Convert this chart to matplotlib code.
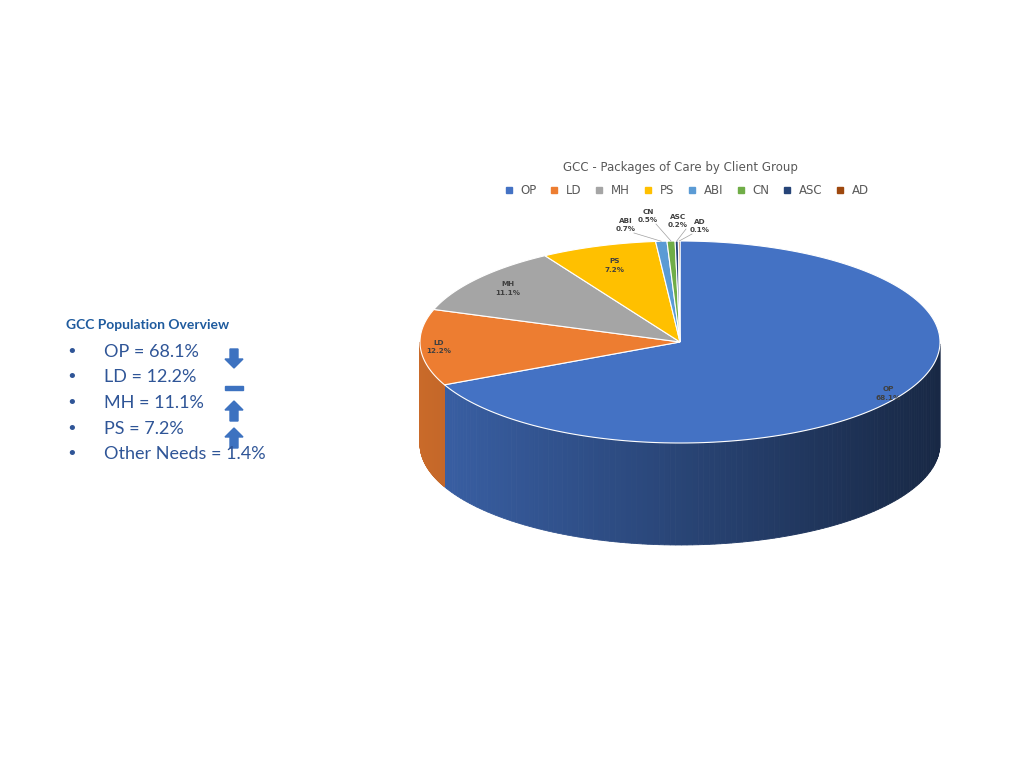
import numpy as np
import matplotlib
matplotlib.use("Agg")
import matplotlib.pyplot as plt
from matplotlib.patches import Polygon, FancyArrow, Rectangle
from matplotlib.lines import Line2D
import matplotlib.colors as mc

categories = ["OP", "LD", "MH", "PS", "ABI", "CN", "ASC", "AD"]
values = [68.1, 12.2, 11.1, 7.2, 0.7, 0.5, 0.2, 0.1]
colors = ["#4472c4", "#ed7d31", "#a5a5a5", "#ffc000", "#5b9bd5", "#70ad47", "#264478", "#9e480e"]
overview = ["OP = 68.1%", "LD = 12.2%", "MH = 11.1%", "PS = 7.2%", "Other Needs = 1.4%"]

fig = plt.figure(figsize=(10.24, 7.68), dpi=100)
ax = fig.add_axes([0, 0, 1, 1])
ax.set_xlim(0, 1024); ax.set_ylim(768, 0); ax.axis("off")

cx, cy, rx, ry, depth = 680, 342, 260, 101, 102
def pt(t, dy=0):
    r = np.radians(t)
    return cx + rx*np.cos(r), cy - ry*np.sin(r) + dy

total = sum(values)
angles = [90]
for v in values:
    angles.append(angles[-1] - 360*v/total)

# side walls
for i, v in enumerate(values):
    a1, a2 = angles[i], angles[i+1]
    ts = np.linspace(a2, a1, 200)
    ts = ts[np.sin(np.radians(ts)) < 0.001]
    if len(ts) < 2:
        continue
    base = np.array(mc.to_rgb(colors[i]))
    for j in range(len(ts)-1):
        t0, t1 = ts[j], ts[j+1]
        x0, y0 = pt(t0); x1, y1 = pt(t1)
        frac = (x0 - (cx-rx)) / (2*rx)
        shade = 0.85 - 0.5*frac
        col = np.clip(base*shade, 0, 1)
        ax.add_patch(Polygon([(x0, y0), (x1, y1), (x1, y1+depth), (x0, y0+depth)],
                             closed=True, fc=col, ec=col, lw=0.6))

# top faces
for i, v in enumerate(values):
    ts = np.linspace(angles[i], angles[i+1], 200)
    pts = [(cx, cy)] + [pt(t) for t in ts]
    ax.add_patch(Polygon(pts, closed=True, fc=colors[i], ec="white", lw=0.8))

# labels
lab_kw = dict(fontsize=5.2, color="#404040", ha="center", va="center", fontweight="semibold")
big_frac = [0.95, 0.93, 0.85, 0.8]
for i in range(4):
    m = (angles[i]+angles[i+1])/2
    x, y = pt(m)
    x = cx + (x-cx)*big_frac[i]; y = cy + (y-cy)*big_frac[i]
    ax.text(x, y, f"{categories[i]}\n{values[i]}%", linespacing=1.5, **lab_kw)
small_pos = [(626, 225), (648, 216), (678, 221), (700, 226)]
for k, i in enumerate(range(4, 8)):
    m = (angles[i]+angles[i+1])/2
    x, y = pt(m)
    lx, ly = small_pos[k]
    ax.plot([x, lx+8 if lx < 680 else lx-8], [y, ly+8], color="#a0a0a0", lw=0.5)
    ax.text(lx, ly, f"{categories[i]}\n{values[i]}%", linespacing=1.5, **lab_kw)

ax.text(680, 167, "GCC - Packages of Care by Client Group", fontsize=8.5, color="#595959",
        ha="center", va="center")
handles = [Line2D([], [], marker="s", ls="", color=c, markersize=5) for c in colors]
fig.legend(handles, categories, loc="center", bbox_to_anchor=(683/1024, 1-191/768), ncol=8,
           frameon=False, fontsize=8.5, handletextpad=0.0, columnspacing=0.5, labelcolor="#595959")

# left text
ax.text(66, 325, "GCC Population Overview", fontsize=10, fontweight="bold", color="#1f5b9e",
        va="center", family="Lato")
for k, s in enumerate(overview):
    y = 352 + k*25.5
    ax.text(66, y, "•", fontsize=13, color="#2f5597", va="center")
    ax.text(104, y, s, fontsize=13, color="#2f5597", va="center", family="Lato")

ac = "#3d72c0"
ax.add_patch(FancyArrow(234, 349, 0, 19, width=8, head_width=18, head_length=9, length_includes_head=True, color=ac))
ax.add_patch(Rectangle((225, 386), 18, 4, color=ac))
for yb in (421, 448):
    ax.add_patch(FancyArrow(234, yb, 0, -20, width=8, head_width=18, head_length=9, length_includes_head=True, color=ac))

fig.savefig("out.png", dpi=100)
